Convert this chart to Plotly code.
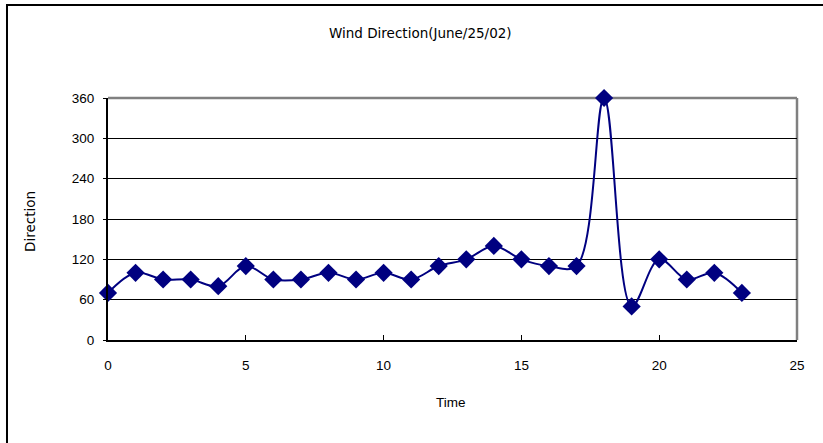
import plotly.graph_objects as go

# Hourly wind direction readings
hours = list(range(24))
direction = [70, 100, 90, 90, 80, 110, 90, 90, 100, 90, 100, 90,
             110, 120, 140, 120, 110, 110, 360, 50, 120, 90, 100, 70]

x_ticks = [0, 5, 10, 15, 20, 25]
y_ticks = [0, 60, 120, 180, 240, 300, 360]

title_text = "Wind Direction(June/25/02)"
x_title = "Time"
y_title = "Direction"

FONT = "Liberation Sans, Arial, sans-serif"
WIDE = "DejaVu Sans, Liberation Sans, sans-serif"
NAVY = "#000080"

fig = go.Figure()
fig.add_trace(go.Scatter(
    x=hours, y=direction,
    mode="lines+markers",
    line=dict(color=NAVY, width=2, shape="spline", smoothing=1.0),
    marker=dict(symbol="diamond", size=14, color=NAVY),
    cliponaxis=False,
    showlegend=False,
))

fig.update_layout(
    width=823, height=443,
    margin=dict(l=108, r=26, t=98, b=103),
    paper_bgcolor="white",
    plot_bgcolor="white",
    font=dict(family=FONT, size=13, color="black"),
)

fig.update_xaxes(
    range=[0, 25], tickvals=x_ticks, ticktext=[str(v) for v in x_ticks],
    showgrid=False, zeroline=False,
    showline=True, linecolor="black", linewidth=2,
    ticks="inside", ticklen=5, tickcolor="black", tickwidth=1,
    ticklabelstandoff=12,
    tickfont=dict(family=FONT, size=13.5),
)
fig.update_yaxes(
    range=[0, 360], tickvals=y_ticks, ticktext=[str(v) for v in y_ticks],
    showgrid=True, gridcolor="black", gridwidth=1,
    zeroline=False,
    showline=True, linecolor="black", linewidth=2,
    ticks="outside", ticklen=3, tickcolor="black", tickwidth=1,
    ticklabelstandoff=6,
    tickfont=dict(family=FONT, size=13.5),
)

# Gray top and right edges of the plot frame
fig.add_shape(type="line", xref="paper", yref="paper", x0=0, x1=1, y0=1, y1=1,
              line=dict(color="#808080", width=2.5), layer="below")
fig.add_shape(type="line", xref="paper", yref="paper", x0=1, x1=1, y0=0, y1=1,
              line=dict(color="#808080", width=2.5), layer="below")

# Outer chart border (runs past the right and bottom edges)
fig.add_shape(type="rect", xref="paper", yref="paper",
              x0=-0.1466, x1=1.06, y0=-0.45, y1=1.384,
              line=dict(color="black", width=2), fillcolor="rgba(0,0,0,0)")

fig.add_annotation(text=title_text, xref="paper", yref="paper",
                   x=(420 - 108) / 689, y=(340 - 33) / 242,
                   showarrow=False, font=dict(family=WIDE, size=13.5),
                   xanchor="center", yanchor="middle")
fig.add_annotation(text=x_title, xref="paper", yref="paper",
                   x=(451 - 108) / 689, y=(340 - 402) / 242,
                   showarrow=False, font=dict(family=FONT, size=13.5),
                   xanchor="center", yanchor="middle")
fig.add_annotation(text=y_title, xref="paper", yref="paper",
                   x=(30 - 108) / 689, y=(340 - 222) / 242,
                   showarrow=False, textangle=-90, font=dict(family=WIDE, size=13.5),
                   xanchor="center", yanchor="middle")

fig.write_html("out.html")
